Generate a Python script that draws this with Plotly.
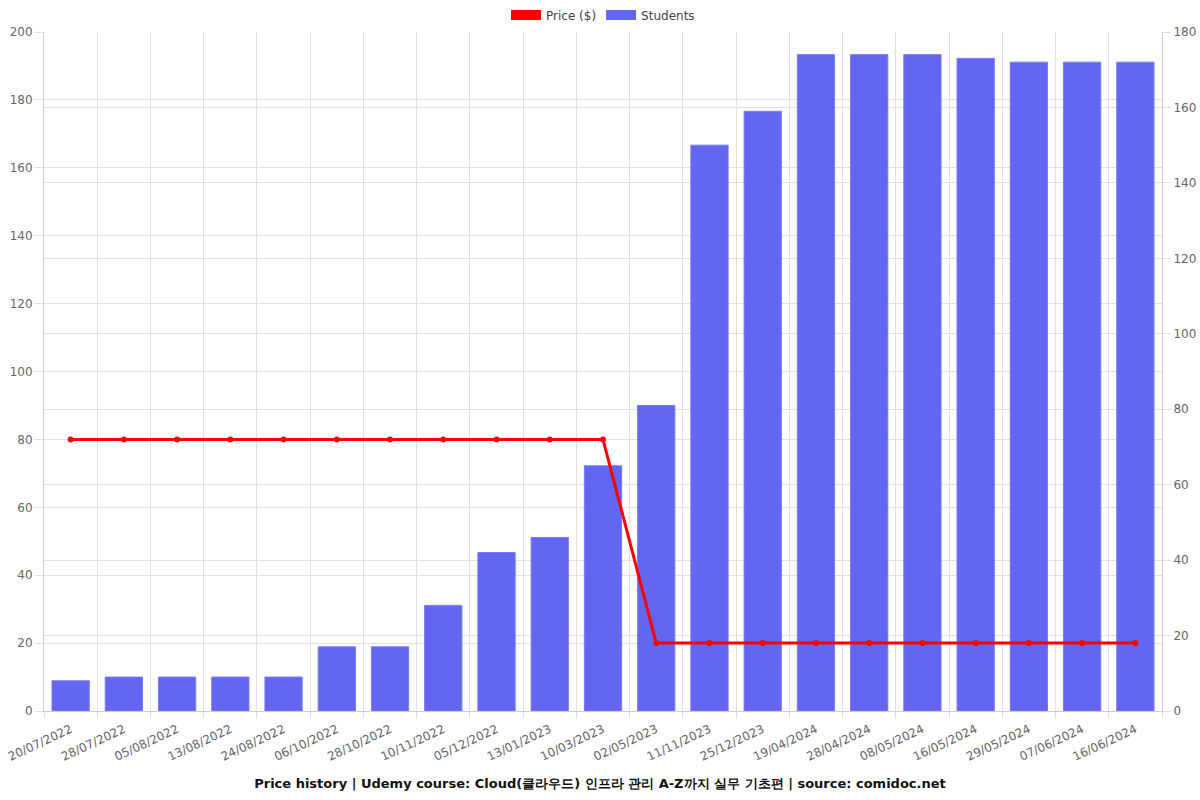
import plotly.graph_objects as go

dates = ["20/07/2022", "28/07/2022", "05/08/2022", "13/08/2022", "24/08/2022",
         "06/10/2022", "28/10/2022", "10/11/2022", "05/12/2022", "13/01/2023",
         "10/03/2023", "02/05/2023", "11/11/2023", "25/12/2023", "19/04/2024",
         "28/04/2024", "08/05/2024", "16/05/2024", "29/05/2024", "07/06/2024",
         "16/06/2024"]
price = [80, 80, 80, 80, 80, 80, 80, 80, 80, 80, 80,
         20, 20, 20, 20, 20, 20, 20, 20, 20, 20]
students = [8, 9, 9, 9, 9, 17, 17, 28, 42, 46, 65, 81,
            150, 159, 174, 174, 174, 173, 172, 172, 172]

title_text = ("Price history | Udemy course: Cloud(클라우드) 인프라 관리 A-Z까지 "
              "실무 기초편 | source: comidoc.net")

RED = "#FF0000"
BLUE = "#6366F1"
GRID = "#E0E0E0"
TICK = "#666666"
FONT = "DejaVu Sans, Verdana, sans-serif"

fig = go.Figure()

# legend-only entries drawn as wide swatches (like the reference)
fig.add_trace(go.Scatter(x=[dates[0]], y=[None], name="Price ($)", mode="lines",
                         line=dict(color=RED, width=14), legendgroup="price",
                         yaxis="y2", hoverinfo="skip"))
fig.add_trace(go.Scatter(x=[dates[0]], y=[None], name="Students", mode="lines",
                         line=dict(color=BLUE, width=14), legendgroup="students",
                         yaxis="y", hoverinfo="skip"))

fig.add_trace(go.Bar(x=dates, y=students, name="Students",
                     marker=dict(color=BLUE, line=dict(color="rgba(120,122,245,1)", width=1)),
                     legendgroup="students", showlegend=False, yaxis="y"))
fig.add_trace(go.Scatter(x=dates, y=price, name="Price ($)", mode="lines+markers",
                         line=dict(color=RED, width=3), marker=dict(color=RED, size=6),
                         legendgroup="price", showlegend=False, yaxis="y2"))

fig.update_layout(
    width=1200, height=800,
    margin=dict(l=44, r=38, t=32, b=89, autoexpand=False),
    paper_bgcolor="white", plot_bgcolor="white",
    font=dict(family=FONT, size=12, color=TICK),
    barmode="overlay", bargap=0.3,
    showlegend=True,
    legend=dict(orientation="h", x=0.5, xanchor="center", y=1 - 15 / 800,
                yanchor="middle", yref="container", itemwidth=30,
                font=dict(size=12, color="#444"), traceorder="normal"),
    title=dict(text="<b>" + title_text + "</b>", x=0.5, xanchor="center",
               y=0.021, yanchor="middle", yref="container",
               font=dict(size=13, color="#111", family=FONT)),
    xaxis=dict(type="category", tickson="boundaries", showgrid=True, gridcolor=GRID,
               range=[-0.5, len(dates) - 0.5],
               ticks="outside", ticklen=6, tickcolor=GRID, tickangle=-25,
               ticklabelstandoff=6,
               showline=True, linecolor="#CCCCCC", tickfont=dict(size=12, color=TICK)),
    yaxis=dict(side="right", range=[0, 180], dtick=20, showgrid=True, gridcolor=GRID,
               ticks="outside", ticklen=8, tickcolor=GRID, showline=True,
               linecolor="#CCCCCC", zeroline=False, tickfont=dict(size=12, color=TICK)),
    yaxis2=dict(side="left", overlaying="y", range=[0, 200], dtick=20, showgrid=True,
                gridcolor=GRID, ticks="outside", ticklen=8, tickcolor=GRID,
                showline=True, linecolor="#CCCCCC", zeroline=False,
                tickfont=dict(size=12, color=TICK)),
)

fig.write_html("out.html")
